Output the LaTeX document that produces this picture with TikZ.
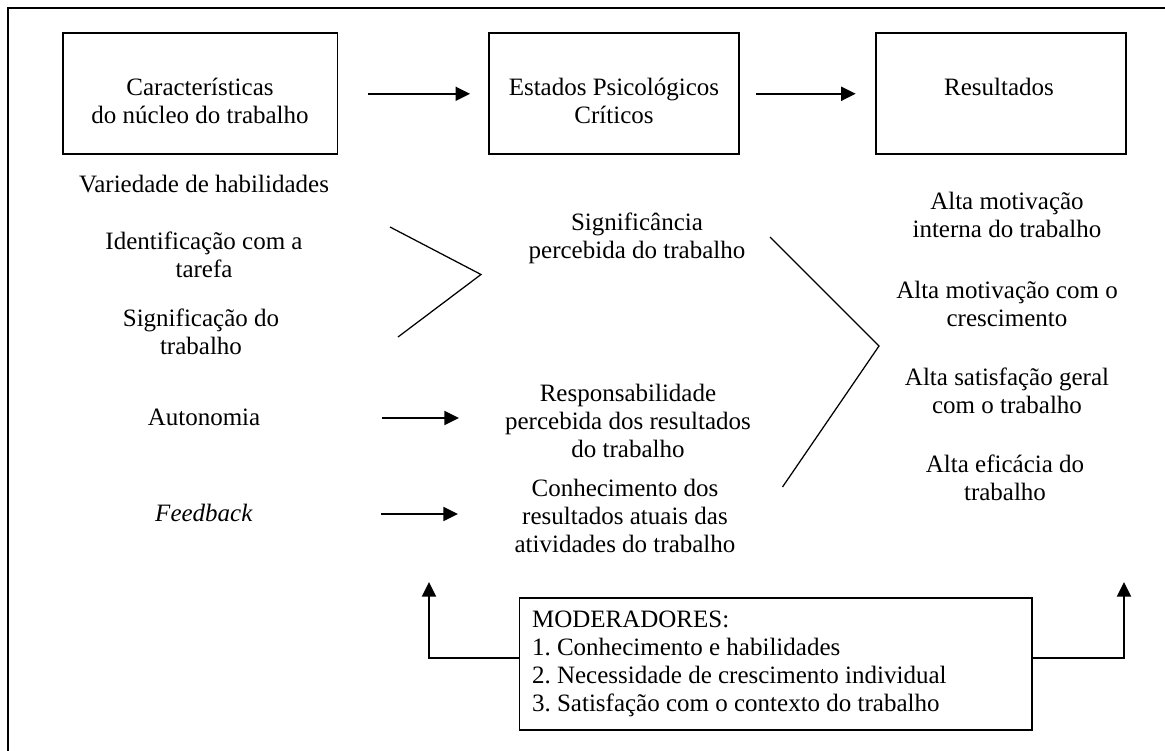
\documentclass[tikz,border=0pt]{standalone}
\usepackage{fontspec}
\setmainfont{Liberation Serif}
\usetikzlibrary{arrows.meta, positioning}

\begin{document}
\begin{tikzpicture}[x=0.48pt, y=-0.48pt, >={Triangle[length=7pt, width=6.7pt]}, font=\fontsize{12}{13.5}\selectfont]
	\tikzstyle{box} = [draw=black, rectangle, line width=0.8pt, minimum height=58.1pt]
	\tikzstyle{invis} = [draw=none, align=center, inner sep=0pt]
	\tikzstyle{seta} = [->, line width=1pt]
	\tikzstyle{traco} = [line width=0.6pt]
	\tikzstyle{modbox} = [draw=black, rectangle, line width=0.8pt, align=flush left, text width=234pt, inner xsep=6pt, minimum height=63.4pt]

	\useasboundingbox (0, 0) rectangle (1165, 751);
	\draw[line width=1pt] (8, 8) rectangle (1185, 770);

	% caixas de cima
	\node[box, minimum width=131.8pt]	at (200.3, 93.8)	(q0)	{};
	\node[box, minimum width=120pt]		at (613.9, 93.8)	(q1)	{};
	\node[box, minimum width=120pt]		at (1000.7, 93.8)	(q2)	{};
	\node[invis]		at (200, 101)		(t0)	{Características\\do núcleo do trabalho};
	\node[invis]		at (614, 101)		(t1)	{Estados Psicológicos\\Críticos};
	\node[invis]		at (999, 87)		(t2)	{Resultados};

	% coluna da esquerda
	\node[invis]		at (204, 184)		(q3)	{Variedade de habilidades};
	\node[invis]		at (204, 255)		(q4)	{Identificação com a\\tarefa};
	\node[invis]		at (201, 332)		(q5)	{Significação do\\trabalho};
	\node[invis]		at (204, 417)		(q6)	{Autonomia};
	\node[invis]		at (204, 513)		(q7)	{\textit{Feedback}};

	% coluna do meio
	\node[invis]		at (637, 238)		(q8)	{Significância\\percebida do trabalho};
	\node[invis]		at (628, 421)		(q9)	{Responsabilidade\\percebida dos resultados\\do trabalho};
	\node[invis]		at (625, 516)		(q10)	{Conhecimento dos\\resultados atuais das\\atividades do trabalho};

	% coluna da direita
	\node[invis]		at (1007, 215)		(q11)	{Alta motivação\\interna do trabalho};
	\node[invis]		at (1007, 304)		(q12)	{Alta motivação com o\\crescimento};
	\node[invis]		at (1007, 391)		(q13)	{Alta satisfação geral\\com o trabalho};
	\node[invis]		at (1005, 478)		(q14)	{Alta eficácia do\\trabalho};

	% moderadores
	\node[modbox]		at (775.8, 664)		(q15)	{MODERADORES:\\1.\ Conhecimento e habilidades\\2.\ Necessidade de crescimento individual\\3.\ Satisfação com o contexto do trabalho};

	\coordinate (a0) at (390, 227);
	\coordinate (a1) at (481, 274.5);
	\coordinate (a2) at (398, 337);
	\coordinate (b0) at (770, 237);
	\coordinate (b1) at (879, 346);
	\coordinate (b2) at (782.5, 487);
	\coordinate (c0) at (382, 418);
	\coordinate (c1) at (459, 418);
	\coordinate (d0) at (381, 514);
	\coordinate (d1) at (458, 514);
	\coordinate (e0) at (429, 582);
	\coordinate (e1) at (1124, 582);

	\path[seta]
	(q0)	edge[shorten <=14.3pt, shorten >=8.6pt]		node		{}	(q1)
	(q1)	edge[shorten <=7.7pt, shorten >=9.2pt]		node		{}	(q2)
	(c0)	edge					node		{}	(c1)
	(d0)	edge					node		{}	(d1);

	\draw[traco] (a0) -- (a1) -- (a2);
	\draw[traco] (b0) -- (b1) -- (b2);

	\draw[seta] ([yshift=2.9pt]q15.west) -| (e0);
	\draw[seta] ([yshift=2.9pt]q15.east) -| (e1);
\end{tikzpicture}
\end{document}
